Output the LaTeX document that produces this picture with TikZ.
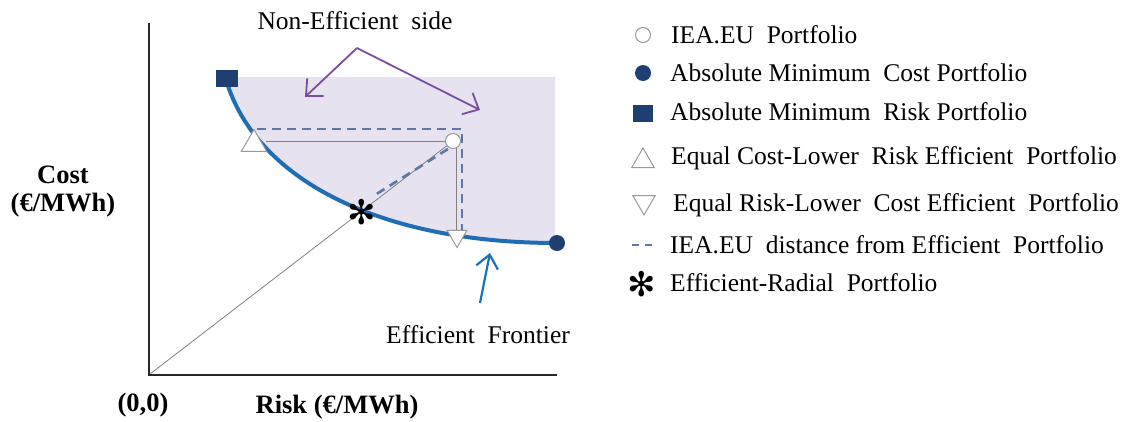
\documentclass[tikz,border=0pt]{standalone}
\usepackage{fontspec}
\setmainfont{Liberation Serif}
\newfontfamily\symfont{DejaVu Sans}
\usetikzlibrary{shapes.geometric,arrows.meta}
\definecolor{nonefshade}{HTML}{E7E2EF}
\definecolor{frontier}{HTML}{1F6DB5}
\definecolor{navy}{HTML}{1F3F73}
\definecolor{dashblue}{HTML}{5E77A8}
\definecolor{purp}{HTML}{7A4E9E}
\definecolor{arrblue}{HTML}{1A73B8}
\begin{document}
\begin{tikzpicture}[x=1pt,y=-1pt,
  lbl/.style={font=\fontsize{25.5}{30}\selectfont, inner sep=0pt},
  axlbl/.style={font=\fontsize{26.5}{32}\selectfont\bfseries, inner sep=0pt},
  sqmark/.style={rectangle, fill=navy, minimum width=22pt, minimum height=17pt, inner sep=0pt},
  dotmark/.style={circle, fill=navy, minimum size=16pt, inner sep=0pt},
  opencirc/.style={circle, draw=gray!80, fill=white, line width=1pt, minimum size=15pt, inner sep=0pt},
  uptri/.style={regular polygon, regular polygon sides=3, draw=gray!80, fill=white, line width=1pt, minimum size=#1, inner sep=0pt},
  dntri/.style={regular polygon, regular polygon sides=3, shape border rotate=180, draw=gray!80, fill=white, line width=1pt, minimum size=#1, inner sep=0pt},
  starmark/.style={font=\fontsize{34}{34}\symfont, inner sep=0pt},
  thin gray/.style={draw=gray, line width=0.8pt},
  distdash/.style={draw=dashblue, line width=2.6pt, dash pattern=on 9pt off 6pt},
  purparrow/.style={draw=purp, line width=1.8pt, -{Straight Barb[length=13pt,width=24pt,line width=1.8pt]}},
  bluearrow/.style={draw=arrblue, line width=2.2pt, -{Straight Barb[length=13pt,width=22pt,line width=2.2pt]}}
]
\useasboundingbox (0,0) rectangle (1142,421);
% shaded non-efficient region
\fill[nonefshade] (228,77) -- (555,77) -- (555,243) -- (557,243)
  .. controls (380,243) and (260,180) .. (228,86) -- cycle;
% axes
\coordinate (O) at (150,374);
\draw[line width=2.6pt, color=black!85] (149,23) -- (149,375) -- (557,375);
% frontier
\draw[frontier, line width=4pt] (228,86) .. controls (260,180) and (380,243) .. (557,243);
% markers on the plot
\node[sqmark] (minrisk) at (227,78) {};
\node[dotmark] (mincost) at (557,243) {};
\node[opencirc] (iea) at (453,141) {};
% gray construction lines
\draw[thin gray] (O) -- (iea);
\draw[thin gray] (266,141) -- (iea.west);
\draw[thin gray] (456,148) -- (456,230);
% dashed distance lines
\coordinate (d1) at (257,129);
\coordinate (d2) at (462,129);
\coordinate (d3) at (462,233);
\coordinate (d4) at (448,149);
\coordinate (d5) at (375,195);
\draw[distdash] (d1) -- (d2) -- (d3);
\draw[distdash] (d4) -- (d5);
\node[uptri=29pt] (eqcost) at (254,144) {};
\node[dntri=23pt] (eqrisk) at (457,236) {};
\node[starmark] (radial) at (362,212) {✻};
% annotations
\node[lbl] (nonef) at (355,21) {Non-Efficient\ \ side};
\coordinate (apex) at (357,48);
\coordinate (tipL) at (305,97);
\coordinate (tipR) at (480,110);
\draw[purparrow] (apex) -- (tipL);
\draw[purparrow] (apex) -- (tipR);
\node[lbl] (eflab) at (478,335) {Efficient\ \ Frontier};
\coordinate (bstart) at (480,303);
\coordinate (btip) at (490,253);
\draw[bluearrow] (bstart) -- (btip);
% axis labels
\node[axlbl] (cost1) at (63,175) {Cost};
\node[axlbl] (cost2) at (63,205) {(€/MWh)};
\node[axlbl] (orig) at (143,405) {(0,0)};
\node[axlbl] (risk) at (337,407) {Risk (€/MWh)};
% legend
\node[opencirc] (lg1) at (643,35) {};
\node[lbl, anchor=west] (lt1) at (671,35) {IEA.EU\ \ Portfolio};
\node[dotmark] (lg2) at (643,73) {};
\node[lbl, anchor=west] (lt2) at (670,73) {Absolute Minimum\ \ Cost Portfolio};
\node[sqmark, minimum width=20pt, minimum height=17pt] (lg3) at (643,113) {};
\node[lbl, anchor=west] (lt3) at (670,112) {Absolute Minimum\ \ Risk Portfolio};
\node[uptri=26pt] (lg4) at (643,161) {};
\node[lbl, anchor=west] (lt4) at (671,158) {Equal Cost-Lower\ \ Risk Efficient\ \ Portfolio};
\node[dntri=26pt] (lg5) at (644,202) {};
\node[lbl, anchor=west] (lt5) at (673,205) {Equal Risk-Lower\ \ Cost Efficient\ \ Portfolio};
\coordinate (lg6a) at (632,245);
\coordinate (lg6b) at (655,245);
\draw[draw=dashblue, line width=2pt, dash pattern=on 7pt off 6pt] (lg6a) -- (lg6b);
\node[lbl, anchor=west] (lt6) at (670,245) {IEA.EU\ \ distance from Efficient\ \ Portfolio};
\node[starmark] (lg7) at (642,284) {✻};
\node[lbl, anchor=west] (lt7) at (670,283) {Efficient-Radial\ \ Portfolio};
\end{tikzpicture}
\end{document}
